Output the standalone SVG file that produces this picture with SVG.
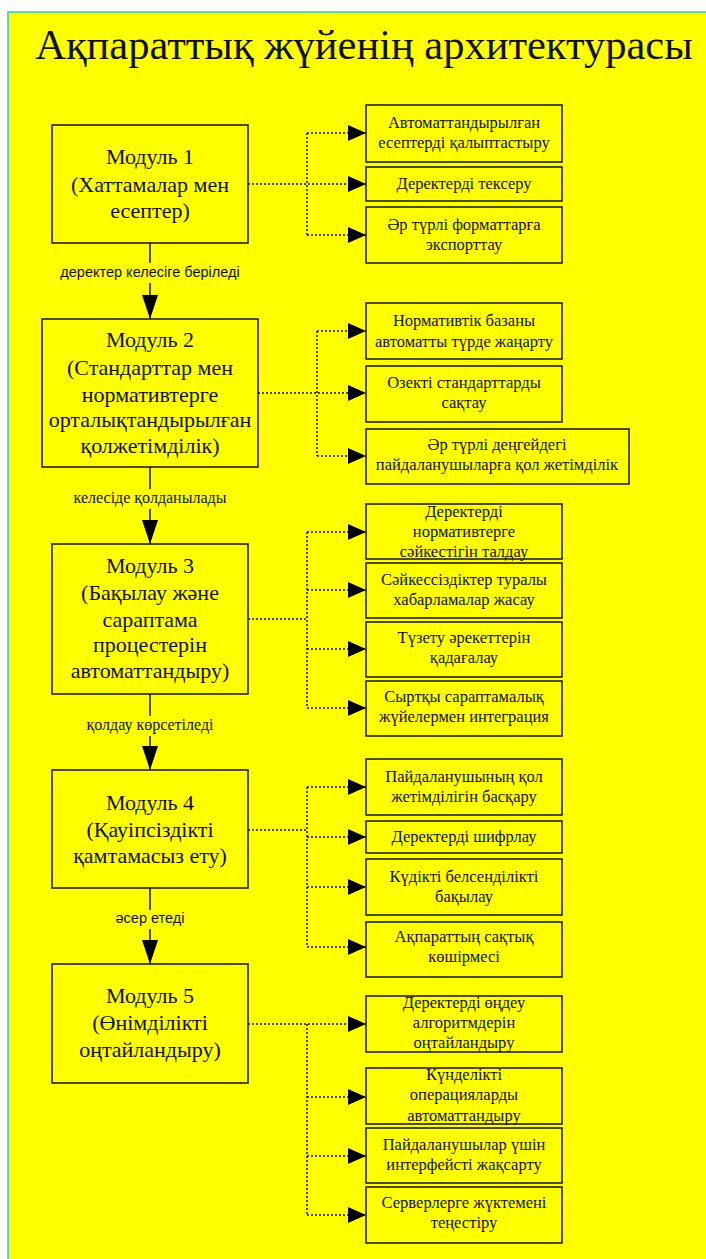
<svg xmlns="http://www.w3.org/2000/svg" width="706" height="1259" viewBox="0 0 706 1259">
<style>
.bg{fill:#ffff00;stroke:#33c6c6;stroke-width:1.5}
.box{fill:#ffff00;stroke:#222;stroke-width:1.6}
.mt{font-family:"Liberation Serif","Times New Roman",serif;font-size:22px;fill:#111;text-anchor:middle}
.st{font-family:"Liberation Serif","Times New Roman",serif;font-size:16.5px;fill:#111;text-anchor:middle}
.lbs{font-family:"Liberation Sans",Arial,sans-serif;font-size:14.5px;fill:#111;text-anchor:middle}
.lbr{font-family:"Liberation Serif","Times New Roman",serif;font-size:16px;fill:#111;text-anchor:middle}
.title{font-family:"Liberation Serif","Times New Roman",serif;font-size:42.5px;fill:#111;text-anchor:middle}
.solid{fill:none;stroke:#111;stroke-width:1.5}
.dot{fill:none;stroke:#111;stroke-width:1.5;stroke-dasharray:2 2}
</style>
<defs>
<marker id="ah" markerUnits="userSpaceOnUse" viewBox="0 0 24 16" refX="24" refY="8" markerWidth="24" markerHeight="16" orient="auto">
<path d="M0,0 L24,8 L0,16 Z" fill="#000"/>
</marker>
<marker id="as" markerUnits="userSpaceOnUse" viewBox="0 0 18 16" refX="18" refY="8" markerWidth="18" markerHeight="16" orient="auto">
<path d="M0,0 L18,8 L0,16 Z" fill="#000"/>
</marker>
</defs>
<rect class="bg" x="8" y="12" width="710" height="1260"/>
<text class="title" x="364" y="59">Ақпараттық жүйенің архитектурасы</text>

<g id="connectors">
<path class="solid" d="M150,243 V263"/>
<text class="lbs" x="150" y="277">деректер келесіге беріледі</text>
<path class="solid" d="M150,283 V319" marker-end="url(#ah)"/>
<path class="solid" d="M150,467 V489"/>
<text class="lbr" x="150" y="503">келесіде қолданылады</text>
<path class="solid" d="M150,509 V544" marker-end="url(#ah)"/>
<path class="solid" d="M150,694 V716"/>
<text class="lbr" x="150" y="730">қолдау көрсетіледі</text>
<path class="solid" d="M150,736 V770" marker-end="url(#ah)"/>
<path class="solid" d="M150,888 V910"/>
<text class="lbs" x="150" y="923">әсер етеді</text>
<path class="solid" d="M150,929 V964" marker-end="url(#ah)"/>

<path class="dot" d="M248,184 H366" marker-end="url(#as)"/>
<path class="dot" d="M307,133 V235"/>
<path class="dot" d="M307,133 H366" marker-end="url(#as)"/>
<path class="dot" d="M307,235 H366" marker-end="url(#as)"/>

<path class="dot" d="M258,393 H366" marker-end="url(#as)"/>
<path class="dot" d="M317,331 V456"/>
<path class="dot" d="M317,331 H366" marker-end="url(#as)"/>
<path class="dot" d="M317,456 H366" marker-end="url(#as)"/>

<path class="dot" d="M248,619 H307"/>
<path class="dot" d="M307,532 V708"/>
<path class="dot" d="M307,532 H366" marker-end="url(#as)"/>
<path class="dot" d="M307,590 H366" marker-end="url(#as)"/>
<path class="dot" d="M307,649 H366" marker-end="url(#as)"/>
<path class="dot" d="M307,708 H366" marker-end="url(#as)"/>

<path class="dot" d="M248,830 H307"/>
<path class="dot" d="M307,787 V947"/>
<path class="dot" d="M307,787 H366" marker-end="url(#as)"/>
<path class="dot" d="M307,837 H366" marker-end="url(#as)"/>
<path class="dot" d="M307,887 H366" marker-end="url(#as)"/>
<path class="dot" d="M307,947 H366" marker-end="url(#as)"/>

<path class="dot" d="M248,1024 H366" marker-end="url(#as)"/>
<path class="dot" d="M307,1024 V1215"/>
<path class="dot" d="M307,1097 H366" marker-end="url(#as)"/>
<path class="dot" d="M307,1156 H366" marker-end="url(#as)"/>
<path class="dot" d="M307,1215 H366" marker-end="url(#as)"/>
</g>

<g id="m1"><rect class="box" x="52" y="125" width="196" height="118"/>
<text class="mt" x="150" y="164">Модуль 1</text><text class="mt" x="150" y="192">(Хаттамалар мен</text><text class="mt" x="150" y="218">есептер)</text></g>
<g id="m2"><rect class="box" x="42" y="319" width="216" height="148"/>
<text class="mt" x="150" y="347">Модуль 2</text><text class="mt" x="150" y="375">(Стандарттар мен</text><text class="mt" x="150" y="402">нормативтерге</text><text class="mt" x="150" y="427">орталықтандырылған</text><text class="mt" x="150" y="453">қолжетімділік)</text></g>
<g id="m3"><rect class="box" x="52" y="544" width="196" height="150"/>
<text class="mt" x="150" y="573">Модуль 3</text><text class="mt" x="150" y="600">(Бақылау және</text><text class="mt" x="150" y="627">сараптама</text><text class="mt" x="150" y="652">процестерін</text><text class="mt" x="150" y="678">автоматтандыру)</text></g>
<g id="m4"><rect class="box" x="52" y="770" width="196" height="118"/>
<text class="mt" x="150" y="810">Модуль 4</text><text class="mt" x="150" y="837">(Қауіпсіздікті</text><text class="mt" x="150" y="863">қамтамасыз ету)</text></g>
<g id="m5"><rect class="box" x="52" y="964" width="196" height="119"/>
<text class="mt" x="150" y="1003">Модуль 5</text><text class="mt" x="150" y="1030">(Өнімділікті</text><text class="mt" x="150" y="1057">оңтайландыру)</text></g>

<g id="s1a"><rect class="box" x="366" y="105" width="196" height="57"/>
<text class="st" x="464" y="128">Автоматтандырылған</text><text class="st" x="464" y="148">есептерді қалыптастыру</text></g>
<g id="s1b"><rect class="box" x="366" y="167" width="196" height="34"/>
<text class="st" x="464" y="189">Деректерді тексеру</text></g>
<g id="s1c"><rect class="box" x="366" y="207" width="196" height="56"/>
<text class="st" x="464" y="230">Әр түрлі форматтарға</text><text class="st" x="464" y="250">экспорттау</text></g>

<g id="s2a"><rect class="box" x="366" y="303" width="196" height="56"/>
<text class="st" x="464" y="326">Нормативтік базаны</text><text class="st" x="464" y="347">автоматты түрде жаңарту</text></g>
<g id="s2b"><rect class="box" x="366" y="366" width="196" height="56"/>
<text class="st" x="464" y="388">Озекті стандарттарды</text><text class="st" x="464" y="408">сақтау</text></g>
<g id="s2c"><rect class="box" x="366" y="429" width="263" height="55"/>
<text class="st" x="497" y="450">Әр түрлі деңгейдегі</text><text class="st" x="497" y="470">пайдаланушыларға қол жетімділік</text></g>

<g id="s3a"><rect class="box" x="366" y="504" width="196" height="55"/>
<text class="st" x="464" y="517">Деректерді</text><text class="st" x="464" y="537">нормативтерге</text><text class="st" x="464" y="557">сәйкестігін талдау</text></g>
<g id="s3b"><rect class="box" x="366" y="563" width="196" height="55"/>
<text class="st" x="464" y="585">Сәйкессіздіктер туралы</text><text class="st" x="464" y="605">хабарламалар жасау</text></g>
<g id="s3c"><rect class="box" x="366" y="622" width="196" height="55"/>
<text class="st" x="464" y="643">Түзету әрекеттерін</text><text class="st" x="464" y="663">қадағалау</text></g>
<g id="s3d"><rect class="box" x="366" y="681" width="196" height="55"/>
<text class="st" x="464" y="702">Сыртқы сараптамалық</text><text class="st" x="464" y="722">жүйелермен интеграция</text></g>

<g id="s4a"><rect class="box" x="366" y="759" width="196" height="56"/>
<text class="st" x="464" y="782">Пайдаланушының қол</text><text class="st" x="464" y="802">жетімділігін басқару</text></g>
<g id="s4b"><rect class="box" x="366" y="821" width="196" height="32"/>
<text class="st" x="464" y="842">Деректерді шифрлау</text></g>
<g id="s4c"><rect class="box" x="366" y="859" width="196" height="56"/>
<text class="st" x="464" y="882">Күдікті белсенділікті</text><text class="st" x="464" y="902">бақылау</text></g>
<g id="s4d"><rect class="box" x="366" y="922" width="196" height="55"/>
<text class="st" x="464" y="942">Ақпараттың сақтық</text><text class="st" x="464" y="962">көшірмесі</text></g>

<g id="s5a"><rect class="box" x="366" y="996" width="196" height="56"/>
<text class="st" x="464" y="1008">Деректерді өңдеу</text><text class="st" x="464" y="1028">алгоритмдерін</text><text class="st" x="464" y="1048">оңтайландыру</text></g>
<g id="s5b"><rect class="box" x="366" y="1068" width="196" height="56"/>
<text class="st" x="464" y="1080">Күнделікті</text><text class="st" x="464" y="1100">операцияларды</text><text class="st" x="464" y="1121">автоматтандыру</text></g>
<g id="s5c"><rect class="box" x="366" y="1128" width="196" height="55"/>
<text class="st" x="464" y="1150">Пайдаланушылар үшін</text><text class="st" x="464" y="1170">интерфейсті жақсарту</text></g>
<g id="s5d"><rect class="box" x="366" y="1187" width="196" height="56"/>
<text class="st" x="464" y="1208">Серверлерге жүктемені</text><text class="st" x="464" y="1228">теңестіру</text></g>
</svg>
